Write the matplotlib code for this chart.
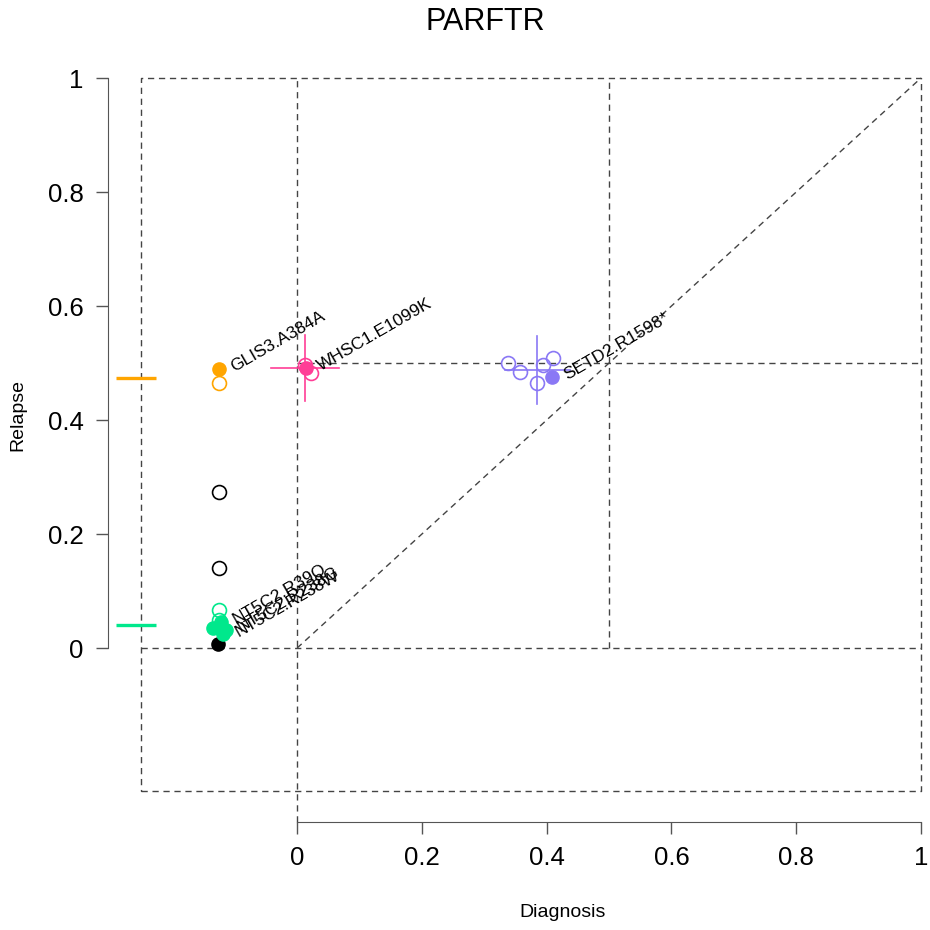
import matplotlib
matplotlib.use('Agg')
import matplotlib.pyplot as plt
import numpy as np

plt.rcParams['font.family'] = ['Liberation Sans', 'DejaVu Sans']

# colours per gene group
colors = {'black': '#000000', 'orange': '#FFA500', 'green': '#00E88C',
          'pink': '#FF3E96', 'purple': '#8A78F5'}

# open circles (samples)
open_x = {'black': [-0.125, -0.125], 'orange': [-0.125],
          'green': [-0.125, -0.125], 'pink': [0.013, 0.022],
          'purple': [0.338, 0.357, 0.385, 0.394, 0.410]}
open_y = {'black': [0.274, 0.140], 'orange': [0.465],
          'green': [0.067, 0.049], 'pink': [0.497, 0.482],
          'purple': [0.500, 0.484, 0.465, 0.496, 0.509]}

# filled circles (labelled mutations)
filled_x = {'black': [-0.127], 'orange': [-0.125],
            'green': [-0.135, -0.122, -0.114, -0.118], 'pink': [0.014],
            'purple': [0.409]}
filled_y = {'black': [0.007], 'orange': [0.489],
            'green': [0.035, 0.046, 0.032, 0.024], 'pink': [0.491],
            'purple': [0.475]}

labels = [('orange', 0, 'GLIS3.A384A'), ('pink', 0, 'WHSC1.E1099K'),
          ('purple', 0, 'SETD2.R1598*'), ('green', 1, 'NT5C2.R39Q'),
          ('green', 2, 'NT5C2.R238G'), ('green', 3, 'NT5C2.R238W')]

# cross (centre, half width, half height)
cross_groups = ['pink', 'purple']
cross_x = [0.013, 0.385]
cross_y = [0.491, 0.488]
cross_dx = [0.055, 0.052]
cross_dy = [0.058, 0.060]

# relapse-only marks on the left
side_groups = ['orange', 'green']
side_y = [0.474, 0.040]

ticks = [0, 0.2, 0.4, 0.6, 0.8, 1]
tick_labels = ['0', '0.2', '0.4', '0.6', '0.8', '1']

fig = plt.figure(figsize=(9.3, 9.3), dpi=100)
ax = fig.add_axes([108 / 930, 108 / 930, 813 / 930, 744 / 930])
ax.set_xlim(-0.303, 1.0)
ax.set_ylim(-0.305, 1.0)

dash = dict(color='#444444', lw=1.0, dashes=(4.5, 3.4), clip_on=False)
ax.plot([-0.25, 1, 1, -0.25, -0.25], [-0.25, -0.25, 1, 1, -0.25], **dash)
ax.plot([0, 0], [-0.305, 1], **dash)
ax.plot([-0.25, 1], [0, 0], **dash)
ax.plot([0.5, 0.5], [0, 1], **dash)
ax.plot([0, 1], [0.5, 0.5], **dash)
ax.plot([0, 1], [0, 1], **dash)

for g, y in zip(side_groups, side_y):
    ax.plot([-0.29, -0.226], [y, y], color=colors[g], lw=2.4,
            solid_capstyle='butt', clip_on=False)

for g, cx, cy, dx, dy in zip(cross_groups, cross_x, cross_y, cross_dx, cross_dy):
    ax.plot([cx - dx, cx + dx], [cy, cy], color=colors[g], lw=1.2)
    ax.plot([cx, cx], [cy - dy, cy + dy], color=colors[g], lw=1.2)

for g in open_x:
    ax.plot(open_x[g], open_y[g], 'o', ms=10, mfc='none', mec=colors[g],
            mew=1.2, ls='none')
for g in filled_x:
    ax.plot(filled_x[g], filled_y[g], 'o', ms=9.5, color=colors[g], ls='none')

for g, i, txt in labels:
    ax.annotate(txt, (filled_x[g][i], filled_y[g][i]), xytext=(9, 1),
                textcoords='offset points', rotation=30, ha='left',
                va='center', rotation_mode='anchor', fontsize=12.5)

for side in ['top', 'right']:
    ax.spines[side].set_visible(False)
ax.spines['left'].set_bounds(0, 1)
ax.spines['bottom'].set_bounds(0, 1)
for side in ['left', 'bottom']:
    ax.spines[side].set_color('#555555')
ax.set_xticks(ticks)
ax.set_xticklabels(tick_labels)
ax.set_yticks(ticks)
ax.set_yticklabels(tick_labels)
ax.tick_params(length=8.6, width=1, color='#555555', labelsize=18.5, pad=9)

fig.text(563 / 930, 1 - 912 / 930, 'Diagnosis', ha='center', va='center', fontsize=14)
fig.text(18 / 930, 1 - 415 / 930, 'Relapse', ha='center', va='center',
         rotation=90, fontsize=14)
fig.text(485 / 930, 1 - 22 / 930, 'PARFTR', ha='center', va='center', fontsize=22)

fig.savefig('out.png', dpi=100)
